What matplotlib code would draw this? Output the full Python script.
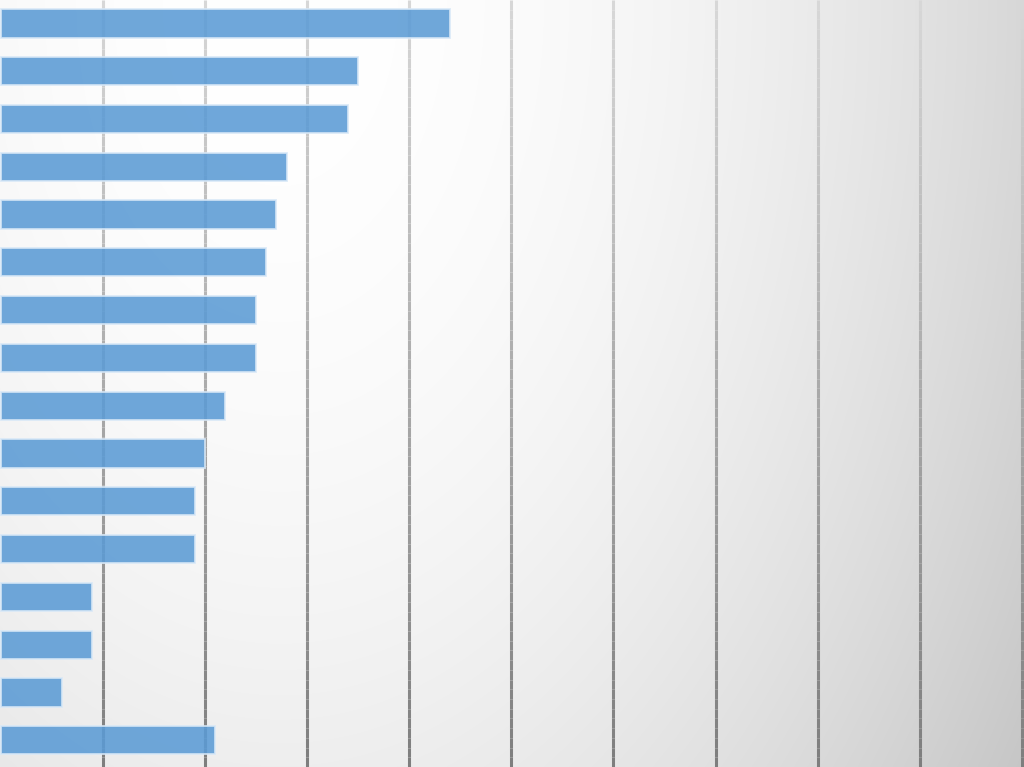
import matplotlib
matplotlib.use("Agg")
import matplotlib.pyplot as plt
import numpy as np
from matplotlib.collections import LineCollection

# bar values, top to bottom
values = [44, 35, 34, 28, 27, 26, 25, 25, 22, 20, 19, 19, 9, 9, 6, 21]
grid_ticks = [10, 20, 30, 40, 50, 60, 70, 80, 90, 100]

W, H = 1024, 767
fig = plt.figure(figsize=(W / 100, H / 100), dpi=100)
ax = fig.add_axes([0, 0, 1, 1])

x_lo, x_hi = -0.05, 100.2
y_top, y_bot = -0.49, 15.56
ax.set_xlim(x_lo, x_hi)
ax.set_ylim(y_bot, y_top)

# elliptical grey gradient, white near the top-left, darker toward bottom-right
px, py = np.meshgrid(np.arange(W), np.arange(H))
drop = 7.2e-5 * (px - 280) ** 2 + 2.9e-5 * py ** 2
shade = np.clip(255 - drop, 0, 255) / 255
bg = np.dstack([shade, shade, shade])
ax.imshow(bg, extent=[x_lo, x_hi, y_bot, y_top], aspect="auto", zorder=0,
          interpolation="bilinear")

# vertical grid lines, getting darker toward the bottom
ys = np.linspace(y_top, y_bot, 80)
for t in grid_ticks:
    segs = [[(t, ys[i]), (t, ys[i + 1])] for i in range(len(ys) - 1)]
    frac = (ys[:-1] - y_top) / (y_bot - y_top)
    g = (215 - 90 * frac) / 255
    cols = [(v, v, v) for v in g]
    ax.add_collection(LineCollection(segs, colors=cols, linewidths=2.2, zorder=1))

pos = np.arange(len(values))
ax.barh(pos, values, height=0.59, color="#5b9bd5", alpha=0.88,
        edgecolor="#d8e8f7", linewidth=1.3, zorder=2)

ax.set_axis_off()
fig.savefig("out.png", dpi=100)
